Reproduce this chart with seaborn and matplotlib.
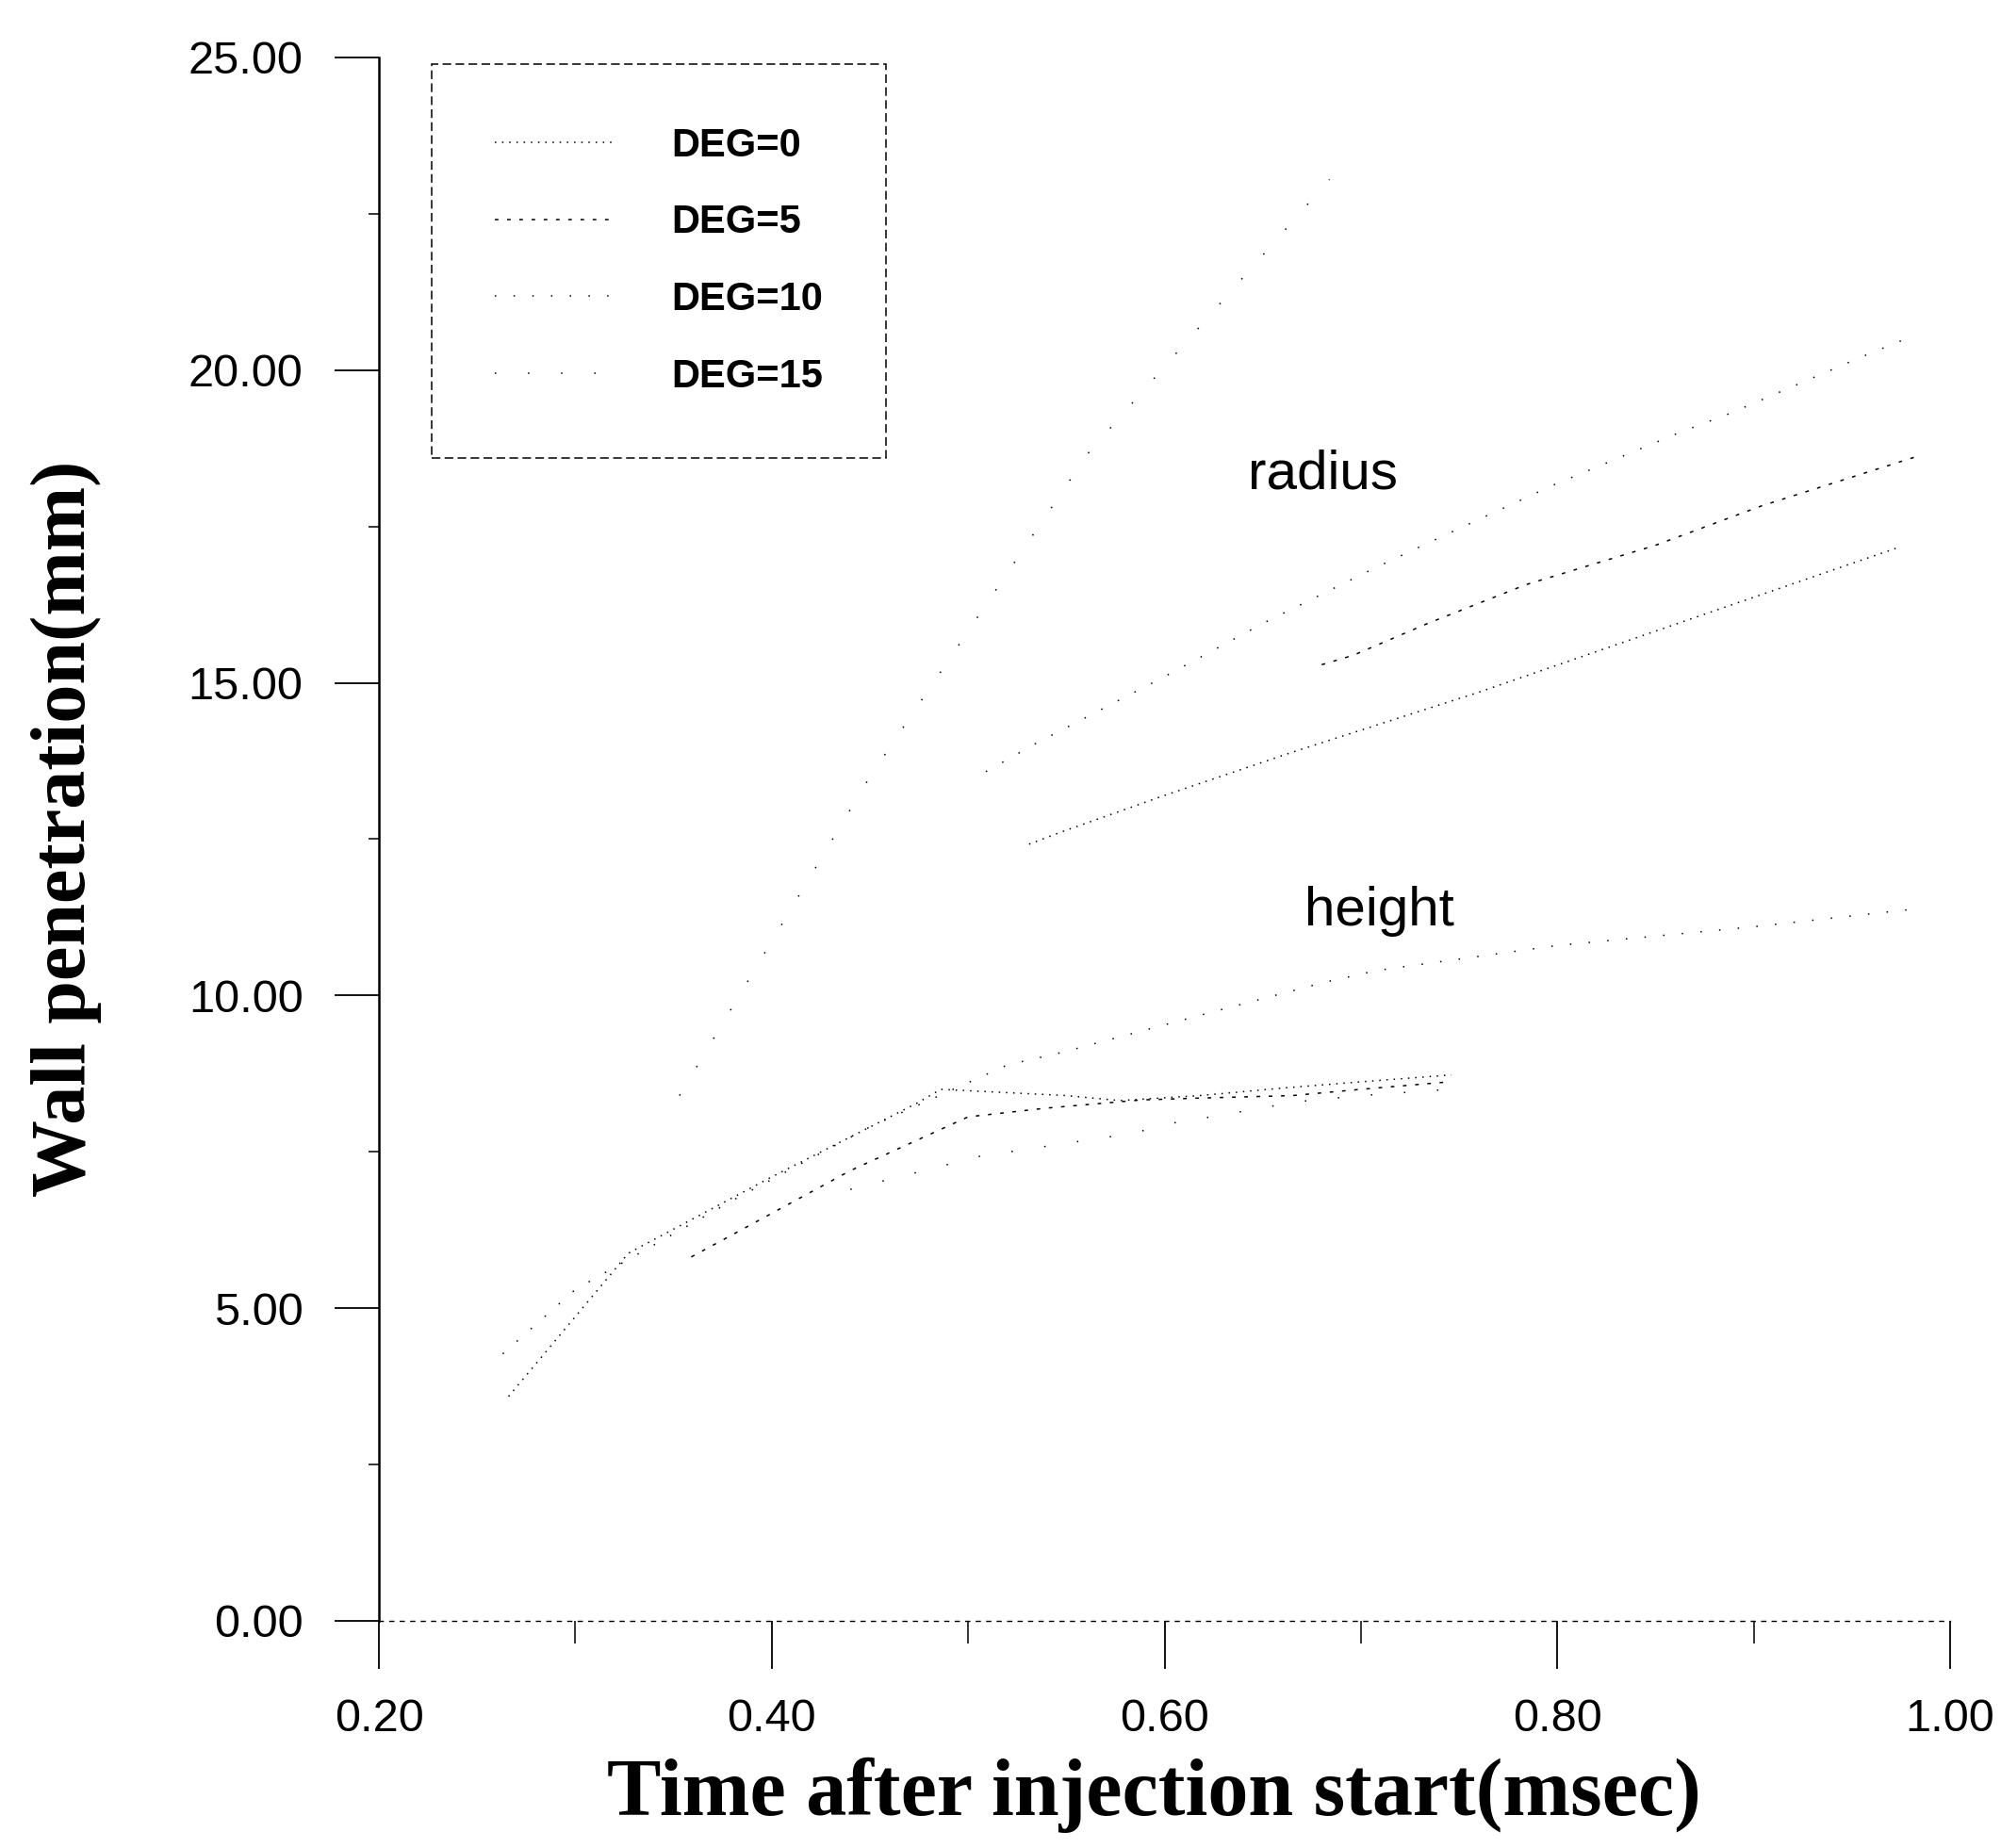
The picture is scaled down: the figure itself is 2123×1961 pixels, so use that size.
import pandas as pd
import matplotlib
matplotlib.use("Agg")
import matplotlib.pyplot as plt
from matplotlib.lines import Line2D
from matplotlib.ticker import FixedLocator, FormatStrFormatter
import seaborn as sns

# === DATA ===
degs = ["DEG=0", "DEG=5", "DEG=10", "DEG=15"]

# radius of the wall spray
radius_t_deg0 = [0.531, 0.547, 0.600, 0.664, 0.760, 0.865, 0.975]
radius_v_deg0 = [12.42, 12.61, 13.20, 13.88, 14.85, 15.99, 17.18]
radius_t_deg5 = [0.680, 0.696, 0.734, 0.784, 0.850, 0.904, 0.983]
radius_v_deg5 = [15.29, 15.44, 15.95, 16.57, 17.20, 17.83, 18.62]
radius_t_deg10 = [0.509, 0.535, 0.600, 0.650, 0.706, 0.733, 0.797, 0.862, 0.888, 0.954, 0.982]
radius_v_deg10 = [13.58, 14.04, 15.10, 15.95, 16.82, 17.22, 18.15, 19.00, 19.31, 20.20, 20.56]
radius_t_deg15 = [0.353, 0.450, 0.561, 0.684]
radius_v_deg15 = [8.40, 13.50, 18.67, 23.05]

# height of the wall spray
height_t_deg0 = [0.266, 0.327, 0.400, 0.474, 0.486, 0.550, 0.577, 0.618, 0.660, 0.700, 0.746]
height_v_deg0 = [3.59, 5.88, 7.10, 8.28, 8.50, 8.40, 8.32, 8.40, 8.52, 8.62, 8.73]
height_t_deg5 = [0.359, 0.382, 0.440, 0.500, 0.540, 0.588, 0.618, 0.665, 0.700, 0.745]
height_v_deg5 = [5.82, 6.21, 7.20, 8.06, 8.20, 8.33, 8.36, 8.40, 8.50, 8.62]
height_t_deg10 = [0.263, 0.300, 0.381, 0.450, 0.520, 0.549, 0.620, 0.680, 0.708, 0.800, 0.900, 0.981]
height_v_deg10 = [4.27, 5.30, 6.74, 7.90, 8.89, 9.10, 9.70, 10.20, 10.40, 10.80, 11.10, 11.38]
height_t_deg15 = [0.440, 0.506, 0.574, 0.596, 0.609, 0.624, 0.667, 0.700, 0.745]
height_v_deg15 = [6.90, 7.43, 7.75, 7.88, 8.00, 8.06, 8.30, 8.40, 8.50]

x_ticks = [0.2, 0.4, 0.6, 0.8, 1.0]
x_minor = [0.3, 0.5, 0.7, 0.9]
y_ticks = [0, 5, 10, 15, 20, 25]
y_minor = [2.5, 7.5, 12.5, 17.5, 22.5]

# === LONG FORMAT ===
series = {
    ("DEG=0", "radius"): (radius_t_deg0, radius_v_deg0),
    ("DEG=5", "radius"): (radius_t_deg5, radius_v_deg5),
    ("DEG=10", "radius"): (radius_t_deg10, radius_v_deg10),
    ("DEG=15", "radius"): (radius_t_deg15, radius_v_deg15),
    ("DEG=0", "height"): (height_t_deg0, height_v_deg0),
    ("DEG=5", "height"): (height_t_deg5, height_v_deg5),
    ("DEG=10", "height"): (height_t_deg10, height_v_deg10),
    ("DEG=15", "height"): (height_t_deg15, height_v_deg15),
}
rows = []
for (deg, qty), (ts, vs) in series.items():
    for t, v in zip(ts, vs):
        rows.append({"time": t, "value": v, "deg": deg, "qty": qty})
df = pd.DataFrame(rows)

# line styles (the scanned lines are thin and broken)
dash_map = {
    "DEG=0": (1, 4),
    "DEG=5": (2.5, 6),
    "DEG=10": (1, 12),
    "DEG=15": (1, 22),
}
palette = {d: "black" for d in degs}

# === FIGURE ===
sns.set_theme(style="white")
plt.rcParams["font.family"] = ["Liberation Sans", "DejaVu Sans"]
plt.rcParams["text.color"] = "black"
plt.rcParams["axes.labelcolor"] = "black"
plt.rcParams["xtick.color"] = "black"
plt.rcParams["ytick.color"] = "black"

fig, ax = plt.subplots(figsize=(21.23, 19.61), dpi=100)
fig.subplots_adjust(left=0.1894, right=0.9746, bottom=0.1229, top=0.9689)

sns.lineplot(data=df, x="time", y="value", hue="deg", style="deg",
             units="qty", estimator=None, hue_order=degs, style_order=degs,
             palette=palette, dashes=dash_map, linewidth=1.1,
             legend=False, ax=ax)

ax.set_xlim(0.2, 1.0)
ax.set_ylim(0, 25)

ax.xaxis.set_major_locator(FixedLocator(x_ticks))
ax.xaxis.set_minor_locator(FixedLocator(x_minor))
ax.yaxis.set_major_locator(FixedLocator(y_ticks))
ax.yaxis.set_minor_locator(FixedLocator(y_minor))
ax.xaxis.set_major_formatter(FormatStrFormatter("%.2f"))
ax.yaxis.set_major_formatter(FormatStrFormatter("%.2f"))

ax.tick_params(axis="x", which="major", direction="out", length=37, width=1.3,
               pad=22, labelsize=35, bottom=True)
ax.tick_params(axis="x", which="minor", direction="out", length=17, width=1.1,
               bottom=True)
ax.tick_params(axis="y", which="major", direction="out", length=34, width=1.3,
               pad=24, labelsize=35, left=True)
ax.tick_params(axis="y", which="minor", direction="out", length=8, width=1.1,
               left=True)

for side in ["top", "right"]:
    ax.spines[side].set_visible(False)
ax.spines["left"].set_color("black")
ax.spines["left"].set_linewidth(1.8)
ax.spines["bottom"].set_color("black")
ax.spines["bottom"].set_linewidth(1.0)
ax.spines["bottom"].set_linestyle((0, (3, 5)))

# axis labels
ax.set_xlabel("Time after injection start(msec)", fontsize=62,
              family=["Liberation Serif", "DejaVu Serif"], fontweight="bold")
ax.set_ylabel("Wall penetration(mm)", fontsize=59,
              family=["Liberation Serif", "DejaVu Serif"], fontweight="bold")
ax.xaxis.label.set_va("center")
ax.yaxis.label.set_va("center")
ax.xaxis.set_label_coords(0.493, -0.1115)
ax.yaxis.set_label_coords(-0.199, 0.507)

# curve annotations
ax.text(0.6425, 18.11, "radius", fontsize=42, ha="left", va="baseline")
ax.text(0.671, 11.12, "height", fontsize=42, ha="left", va="baseline")

# legend
handles = [Line2D([0], [0], color="black", linewidth=1.1, dashes=dash_map[d]) for d in degs]
leg = ax.legend(handles, degs, loc="upper left", bbox_to_anchor=(0.0336, 0.9958),
                borderaxespad=0, borderpad=1.6, handlelength=3.1, handletextpad=1.4,
                labelspacing=1.0, fancybox=False, frameon=True,
                prop={"family": ["Liberation Sans", "DejaVu Sans"], "weight": "bold", "size": 30})
frame = leg.get_frame()
frame.set_edgecolor("black")
frame.set_linewidth(1.1)
frame.set_linestyle((0, (6, 3)))
frame.set_facecolor("white")
frame.set_alpha(None)

plt.savefig("out.png", dpi=100)
